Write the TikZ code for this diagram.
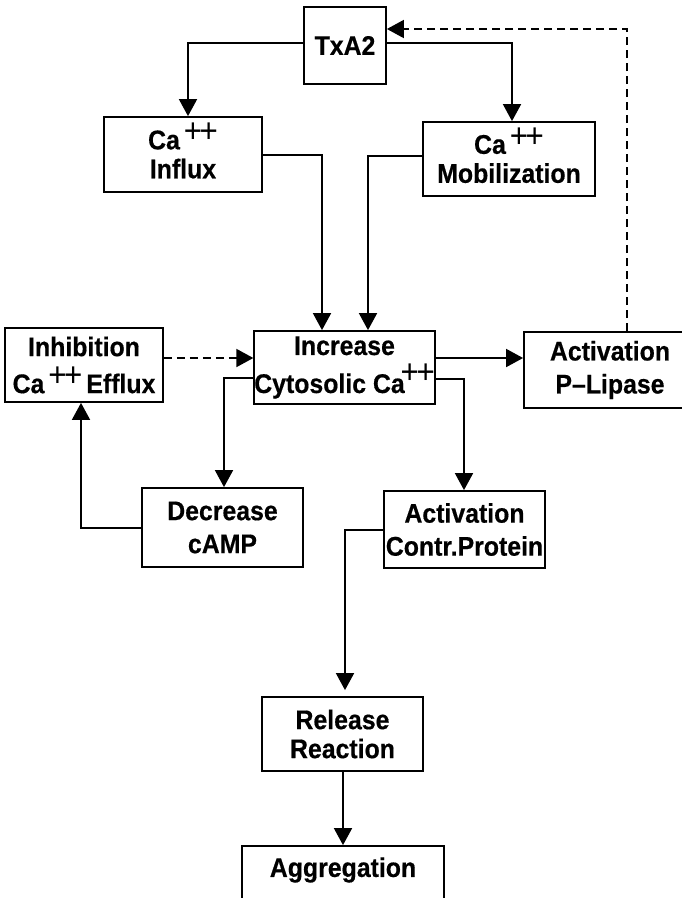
\documentclass[tikz,border=0pt]{standalone}
\usepackage{fontspec}
\setmainfont{Liberation Sans}
\newfontfamily\boxfont{Liberation Sans}[FakeStretch=0.92, BoldFeatures={FakeStretch=0.92, FakeBold=0.5}]
\usetikzlibrary{arrows.meta}
\newcommand\pplus{\smash{\raisebox{0.24em}{\mdseries\fontsize{34}{34}\selectfont+\kern-2.5pt+}}}
\begin{document}
\begin{tikzpicture}[x=1pt,y=-1pt,
  box/.style={draw, line width=1.8pt, inner sep=0pt, align=center,
    font=\boxfont\bfseries\fontsize{27}{29}\selectfont},
  lbl/.style={inner sep=0pt, align=center, font=\boxfont\bfseries\fontsize{27}{29}\selectfont},
  conn/.style={line width=1.8pt},
  arr/.style={conn, -{Triangle[length=17pt,width=18pt]}},
  dasharr/.style={arr, dash pattern=on 8pt off 5pt}]
\useasboundingbox (0,0) rectangle (681,898);

\node[box, minimum width=82pt, minimum height=77pt] (txa) at (345,45.5) {TxA2};
\node[box, minimum width=158pt, minimum height=75pt] (infl) at (183,154.5) {Ca\kern4pt\pplus\\Influx};
\node[box, minimum width=172pt, minimum height=74pt] (mob) at (509,159) {Ca\kern4pt\pplus\\Mobilization};
\node[box, minimum width=158pt, minimum height=74pt] (inh) at (84,365) {Inhibition\\[8pt]Ca\kern4pt\pplus\kern4pt Efflux};
\node[box, minimum width=179pt, minimum height=73pt] (inc) at (344.5,367.5) {Increase\\[9pt]Cytosolic Ca\kern-4pt\raisebox{3pt}{\pplus}};
\node[box, minimum width=172pt, minimum height=76pt] (plip) at (610,370) {Activation\\[4pt]P–Lipase};
\node[box, minimum width=161pt, minimum height=79pt] (dec) at (222.5,527.5) {Decrease\\[4pt]cAMP};
\node[box, minimum width=161pt, minimum height=77pt] (ctr) at (464.5,529.5) {Activation\\[4pt]Contr.Protein};
\node[box, minimum width=161pt, minimum height=74pt] (rel) at (342.5,734) {Release\\Reaction};
\node[box, minimum width=202pt, minimum height=80pt] (agg) at (343,886) {};
\node[lbl] (aggtext) at (343,870) {Aggregation};

% TxA2 to Ca++ boxes
\draw[arr] (txa.west |- 0,43) -| (infl.north -| 188,0);
\draw[arr] (txa.east |- 0,43) -| (mob.north -| 512,0);
% feedback from P-Lipase
\draw[dasharr] (plip.north -| 627,0) |- (txa.east |- 0,29);
% Ca++ boxes to Increase
\draw[arr] (infl.east |- 0,155) -| (inc.north -| 322,0);
\draw[arr] (mob.west |- 0,156) -| (inc.north -| 368,0);
% Inhibition to Increase
\draw[dasharr] (inh.east |- 0,358) -- (inc.west |- 0,358);
% Increase to P-Lipase
\draw[arr] (inc.east |- 0,358) -- (plip.west |- 0,358);
% Increase to Decrease / Contr
\draw[arr] (inc.west |- 0,378) -| (dec.north -| 224,0);
\draw[arr] (inc.east |- 0,379) -| (ctr.north -| 464,0);
% Decrease to Inhibition
\draw[arr] (dec.west |- 0,528) -| (inh.south -| 81,0);
% Contr to Release
\draw[arr, shorten >=6pt] (ctr.west |- 0,530) -| (rel.north -| 345,0);
% Release to Aggregation
\draw[arr] (rel.south -| 343,0) -- (agg.north -| 343,0);
\end{tikzpicture}
\end{document}
